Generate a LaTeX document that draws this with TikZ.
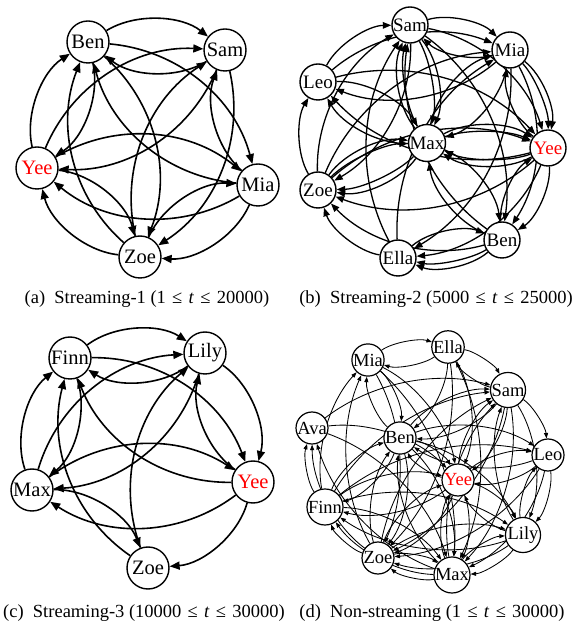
\documentclass[tikz,border=0pt]{standalone}
\usepackage{fontspec}
\setmainfont{Liberation Serif}
\newfontfamily\capfont{Liberation Serif}
\usetikzlibrary{calc,arrows.meta}
\pgfdeclarelayer{edges}
\pgfsetlayers{edges,main}
\newcommand\myleq{\hspace{.34em}≤\hspace{.34em}}
\tikzset{
  arcr/.style 2 args={to path={.. controls ($(\tikztostart)!#1!#2:(\tikztotarget)$) and ($(\tikztotarget)!#1!-#2:(\tikztostart)$) .. (\tikztotarget)}},
  nd/.style={circle, draw, fill=white, line width=1.4pt, inner sep=0pt},
  nda/.style={nd, minimum size=42pt, font=\fontsize{20.5}{20.5}\selectfont},
  ndb/.style={nd, minimum size=36pt, font=\fontsize{19}{19}\selectfont},
  ndd/.style={nd, minimum size=32pt, line width=1.2pt, font=\fontsize{18.5}{18.5}\selectfont},
  hl/.style={text=red},
  ea/.style={line width=1.6pt, -{Triangle[length=10pt,width=8pt]}, arcr={0.4069}{34.99}},
  eb/.style={line width=1.3pt, -{Triangle[length=8.5pt,width=6.5pt]}, arcr={0.3887}{30.96}},
  ebb/.style={eb, arcr={0.3590}{21.80}},
  ed/.style={line width=0.85pt, -{Triangle[length=5.5pt,width=4pt]}, arcr={0.3727}{26.57}},
  captext/.style={font=\capfont\fontsize{18.5}{18.5}\selectfont, inner sep=0pt},
}
\begin{document}
\begin{tikzpicture}[x=1pt,y=1pt]
\useasboundingbox (0,0) rectangle (579,627);
% ---------- panel (a)
\node[nda] (aben) at (88,585) {Ben};
\node[nda] (asam) at (225,577) {Sam};
\node[nda,hl] (ayee) at (37,459) {Yee};
\node[nda] (amia) at (258,442) {Mia};
\node[nda] (azoe) at (140,370) {Zoe};
% ---------- panel (b)
\node[ndb] (bsam) at (410,602) {Sam};
\node[ndb] (bmia) at (510,577) {Mia};
\node[ndb] (bleo) at (318,545) {Leo};
\node[ndb] (bmax) at (427,484) {Max};
\node[ndb,hl] (byee) at (548,479) {Yee};
\node[ndb] (bzoe) at (318,437) {Zoe};
\node[ndb] (bben) at (502,387) {Ben};
\node[ndb] (bella) at (398,369) {Ella};
% ---------- panel (c)
\node[nda] (cfinn) at (70,269) {Finn};
\node[nda] (clily) at (205,274) {Lily};
\node[nda] (cmax) at (32,137) {Max};
\node[nda,hl] (cyee) at (253,145) {Yee};
\node[nda] (czoe) at (148,59) {Zoe};
% ---------- panel (d)
\node[ndd] (dmia) at (368,267) {Mia};
\node[ndd] (della) at (448,280) {Ella};
\node[ndd] (dsam) at (508,237) {Sam};
\node[ndd] (dava) at (312,199) {Ava};
\node[ndd] (dben) at (400,189) {Ben};
\node[ndd] (dleo) at (548,172) {Leo};
\node[ndd,hl] (dyee) at (458,147) {Yee};
\node[ndd] (dfinn) at (325,120) {Finn};
\node[ndd] (dlily) at (523,92) {Lily};
\node[ndd] (dzoe) at (378,69) {Zoe};
\node[ndd] (dmax) at (452,52) {Max};
\begin{pgfonlayer}{edges}
\foreach \s/\t in {ben/sam, sam/ben, yee/sam, ben/yee, yee/ben, zoe/ben, mia/ben, ben/mia, ben/zoe, yee/mia, mia/yee, zoe/yee, yee/zoe, zoe/sam, sam/zoe, mia/sam, sam/yee, zoe/mia, mia/zoe}
  \draw[ea] (a\s) to (a\t);
\foreach \s/\t in {sam/mia, mia/sam, leo/sam, zoe/sam, ella/sam, max/sam, sam/max, sam/yee, sam/ben, ben/sam, leo/max, max/leo, leo/yee, leo/mia, mia/leo, zoe/leo, mia/yee, yee/mia, mia/ben, ella/mia, max/mia, mia/max, max/yee, yee/max, max/zoe, zoe/max, ben/max, max/ben, yee/zoe, zoe/yee, yee/ben, ben/yee, yee/ella, ben/ella, ella/ben, ben/zoe, ella/zoe, zoe/mia, sam/zoe, yee/leo, mia/ella}
  \draw[eb] (b\s) to (b\t);
\foreach \s/\t in {max/yee, yee/max, sam/max, max/sam, max/zoe, zoe/max, ben/ella, mia/yee}
  \draw[ebb] (b\s) to (b\t);
\foreach \s/\t in {finn/lily, lily/finn, max/lily, finn/max, max/finn, zoe/finn, finn/yee, yee/finn, lily/yee, yee/lily, lily/max, zoe/lily, max/yee, yee/max, max/zoe, yee/zoe}
  \draw[ea] (c\s) to (c\t);
\foreach \s/\t in {mia/ella, ella/mia, ella/sam, sam/ella, ava/sam, sam/leo, sam/ben, ben/sam, ella/ben, mia/ben, ben/mia, finn/ava, zoe/ava, max/ava, ava/yee, ava/max, finn/ben, finn/sam, finn/yee, finn/leo, finn/lily, finn/max, zoe/finn, max/finn, lily/finn, yee/finn, ben/yee, yee/ben, leo/ben, ben/leo, leo/yee, yee/leo, yee/lily, lily/yee, yee/max, max/yee, yee/zoe, zoe/yee, sam/yee, yee/sam, sam/zoe, sam/max, sam/lily, leo/lily, leo/zoe, leo/max, lily/max, max/lily, lily/zoe, zoe/lily, zoe/max, max/zoe, ben/zoe, zoe/ben, ben/max, max/ben, ella/yee, ella/zoe, mia/yee, mia/zoe, zoe/mia, finn/mia, lily/leo, ben/lily, zoe/sam, max/sam, lily/sam, ben/finn, ella/max, mia/max}
  \draw[ed] (d\s) to (d\t);
\end{pgfonlayer}
% ---------- captions
\node[captext] (capa) at (147,328) {(a)\hspace{.5em}Streaming-1 (1\myleq\textit{t}\myleq 20000)};
\node[captext] (capb) at (436,328) {(b)\hspace{.5em}Streaming-2 (5000\myleq\textit{t}\myleq 25000)};
\node[captext] (capc) at (144,14) {(c)\hspace{.5em}Streaming-3 (10000\myleq\textit{t}\myleq 30000)};
\node[captext] (capd) at (432,14) {(d)\hspace{.5em}Non-streaming (1\myleq\textit{t}\myleq 30000)};
\end{tikzpicture}
\end{document}
